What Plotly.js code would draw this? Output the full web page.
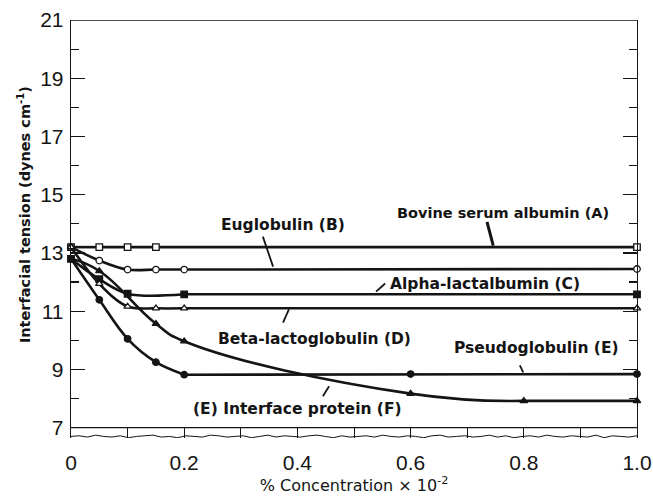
<!DOCTYPE html>
<html>
<head>
<meta charset="utf-8">
<script src="https://cdn.plot.ly/plotly-3.0.1.min.js"></script>
<style>html,body{margin:0;padding:0;background:#fff;}#chart{width:653px;height:499px;}</style>
</head>
<body>
<div id="chart"></div>
<script>
// ---- data ----
const seriesNames = ["Bovine serum albumin (A)", "Euglobulin (B)", "Alpha-lactalbumin (C)",
                     "Beta-lactoglobulin (D)", "Pseudoglobulin (E)", "(E) Interface protein (F)"];
const xA = [0, 0.05, 0.10, 0.15, 1.0];
const yA = [13.2, 13.2, 13.2, 13.2, 13.2];
const xB = [0, 0.05, 0.10, 0.15, 0.20, 1.0];
const yB = [13.2, 12.74, 12.43, 12.43, 12.43, 12.45];
const xC = [0, 0.05, 0.10, 0.20, 1.0];
const yC = [12.8, 12.1, 11.6, 11.58, 11.58];
const xD = [0, 0.05, 0.10, 0.15, 0.20, 1.0];
const yD = [13.2, 11.94, 11.16, 11.1, 11.1, 11.1];
const xE = [0, 0.05, 0.10, 0.15, 0.20, 0.60, 1.0];
const yE = [12.8, 11.39, 10.05, 9.25, 8.82, 8.84, 8.84];
const xF = [0, 0.05, 0.15, 0.20, 0.60, 0.80, 1.0];
const yF = [12.8, 12.38, 10.57, 9.97, 8.17, 7.92, 7.92];
const xTickVals = [0, 0.2, 0.4, 0.6, 0.8, 1.0];
const xTickText = ["0", "0.2", "0.4", "0.6", "0.8", "1.0"];
const yTickVals = [7, 9, 11, 13, 15, 17, 19, 21];

const ink = "#141414";
const data = [];
// curved part drawn as a spline up to index k, the rest straight
function addSeries(x, y, symbol, filled, k, sm) {
  const base = {type: "scatter", showlegend: false, hoverinfo: "skip", cliponaxis: false};
  data.push(Object.assign({}, base, {x: x.slice(0, k + 1), y: y.slice(0, k + 1), mode: "lines",
    line: {color: ink, width: 2.6, shape: "spline", smoothing: sm || 1}}));
  data.push(Object.assign({}, base, {x: x.slice(k), y: y.slice(k), mode: "lines",
    line: {color: ink, width: 2.6, shape: "linear"}}));
  data.push(Object.assign({}, base, {x: x, y: y, mode: "markers",
    marker: {symbol: symbol, size: 6.5, color: filled ? ink : "#fff", line: {color: ink, width: 1.3}}}));
}
addSeries(xA, yA, "square", false, 1);
addSeries(xB, yB, "circle", false, 4);
addSeries(xC, yC, "square", true, 3);
addSeries(xD, yD, "triangle-up", false, 4);
addSeries(xE, yE, "circle", true, 4);
addSeries(xF, yF, "triangle-up", true, 5, 1.3);

// wavy broken-axis line (decoration)
const wig = [0,1,-1,2,0,-1,1,-2,0,1,2,-1,0,-2,1,0,-1,2,1,-1,0,1,-2,0,2,-1,1,0,-1,1,2,0,-2,1,-1,0,1,-1,2,0,-1,1,0,-2,1,2,-1,0,1,-1,0,2,-1,1,-2,0,1,-1,2,0,-1,1,0,-1,2,-2,1,0,-1,1];
let wpath = "";
for (let i = 0; i < wig.length; i++) {
  const xx = i / (wig.length - 1);
  const yy = 6.70 + wig[i] * 0.022;
  wpath += (i === 0 ? "M" : "L") + xx.toFixed(4) + "," + yy.toFixed(4);
}

function lab(text, x, y, size) {
  return {text: text, x: x, y: y, xref: "x", yref: "y", showarrow: false,
          font: {family: "DejaVu Sans", size: size, color: ink, weight: "bold"},
          xanchor: "center", yanchor: "middle"};
}
function ptr(x0, y0, x1, y1, w) {
  return {type: "line", xref: "x", yref: "y", x0: x0, y0: y0, x1: x1, y1: y1,
          line: {color: ink, width: w || 2}};
}

const layout = {
  width: 653, height: 499,
  margin: {l: 71, r: 16, t: 20, b: 61},
  paper_bgcolor: "#fff", plot_bgcolor: "#fff",
  showlegend: false,
  xaxis: {
    range: [0, 1.0], showgrid: false, zeroline: false, showline: false,
    tickmode: "array", tickvals: xTickVals, ticktext: xTickText,
    ticks: "inside", ticklen: 10, tickwidth: 1, tickcolor: ink,
    minor: {dtick: 0.1, tick0: 0, ticks: "inside", ticklen: 10, tickwidth: 1, tickcolor: ink},
    tickfont: {family: "Liberation Sans", size: 21, color: ink},
    ticklabelstandoff: 10,
    title: {text: "% Concentration × 10<sup>-2</sup>", standoff: 6,
            font: {family: "DejaVu Sans", size: 16, color: ink}}
  },
  yaxis: {
    range: [6.646, 21], showgrid: false, zeroline: false,
    showline: true, linecolor: ink, linewidth: 1.3, mirror: "ticks",
    tickmode: "array", tickvals: yTickVals,
    ticks: "inside", ticklen: 14, tickwidth: 1.2, tickcolor: ink,
    minor: {dtick: 1, tick0: 7, ticks: "inside", ticklen: 8, tickwidth: 1.2, tickcolor: ink},
    tickfont: {family: "Liberation Sans", size: 21, color: ink},
    ticklabelstandoff: 2
  },
  shapes: [
    {type: "line", xref: "paper", yref: "y", x0: 0, x1: 1, y0: 21, y1: 21, line: {color: ink, width: 1.3}},
    {type: "line", xref: "paper", yref: "y", x0: 0, x1: 1, y0: 7, y1: 7, line: {color: ink, width: 1.3}},
    {type: "path", xref: "x", yref: "y", path: wpath, line: {color: ink, width: 1}},
    ptr(0.735, 14.07, 0.746, 13.25, 3),
    ptr(0.339, 13.56, 0.357, 12.53, 1.8),
    ptr(0.539, 11.675, 0.555, 11.95, 1.8),
    ptr(0.3746, 10.61, 0.385, 11.06, 1.8),
    ptr(0.793, 9.14, 0.799, 8.90, 1.8),
    ptr(0.445, 8.08, 0.456, 8.42, 1.8)
  ],
  annotations: [
    lab(seriesNames[0], 0.763, 14.38, 14.5),
    lab(seriesNames[1], 0.375, 13.97, 15.5),
    lab(seriesNames[2], 0.731, 11.92, 15.5),
    lab(seriesNames[3], 0.430, 10.03, 15.5),
    lab(seriesNames[4], 0.822, 9.72, 15.5),
    lab(seriesNames[5], 0.401, 7.63, 15.5),
    {text: "Interfacial tension (dynes cm<sup>-1</sup>)", xref: "paper", yref: "y", x: 0, y: 14.3,
     xshift: -47, textangle: -90, showarrow: false, xanchor: "center", yanchor: "middle",
     font: {family: "DejaVu Sans", size: 14.5, color: ink, weight: "bold"}}
  ]
};
Plotly.newPlot("chart", data, layout, {displayModeBar: false, staticPlot: true});
</script>
</body>
</html>
